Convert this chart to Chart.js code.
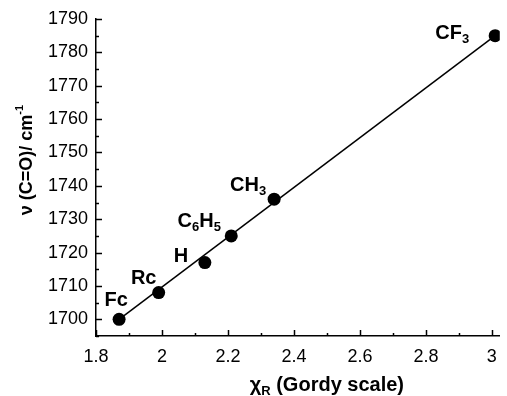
<!DOCTYPE html>
<html>
<head>
<meta charset="utf-8">
<script src="https://cdn.jsdelivr.net/npm/chart.js@4/dist/chart.umd.min.js"></script>
<style>
  html, body { margin: 0; padding: 0; background: #fff; }
  #wrap { width: 507px; height: 396px; }
</style>
</head>
<body>
<div id="wrap"><canvas id="grafico"></canvas></div>
<script>
// valores (eletronegatividade x frequência C=O)
const substituintes = [
  [["Fc", 0]],
  [["Rc", 0]],
  [["H", 0]],
  [["C", 0], ["6", 1], ["H", 0], ["5", 1]],
  [["CH", 0], ["3", 1]],
  [["CF", 0], ["3", 1]]
];
const chiR = [1.87, 1.99, 2.13, 2.21, 2.34, 3.01];
const nuCO = [1700, 1708, 1717, 1725, 1736, 1785];

// reta ajustada (extremos)
const retaX = [1.87, 3.01];
const retaY = [1700, 1785];

const ticksX = [1.8, 2.0, 2.2, 2.4, 2.6, 2.8, 3.0];
const ticksY = [1700, 1710, 1720, 1730, 1740, 1750, 1760, 1770, 1780, 1790];

// deslocamento do centro de cada rótulo em relação ao ponto
const offsetRotulo = [[-3, -19], [-15, -14], [-24, -6], [-32, -14], [-26, -14], [-43, -2]];

const fonte = "'Liberation Sans', Arial, sans-serif";

// desenha texto com subscritos
function textoComSub(ctx, partes, x, y, tam) {
  let cx = x;
  partes.forEach(([t, sub]) => {
    ctx.font = "bold " + (sub ? Math.round(tam * 0.65) : tam) + "px " + fonte;
    ctx.fillText(t, cx, sub ? y + tam * 0.3 : y);
    cx += ctx.measureText(t).width;
  });
}

function larguraSub(ctx, partes, tam) {
  let w = 0;
  partes.forEach(([t, sub]) => {
    ctx.font = "bold " + (sub ? Math.round(tam * 0.65) : tam) + "px " + fonte;
    w += ctx.measureText(t).width;
  });
  return w;
}

const eixosPlugin = {
  id: "eixos",
  afterDraw(chart) {
    const ctx = chart.ctx;
    const sx = chart.scales.x, sy = chart.scales.y;
    const area = chart.chartArea;
    ctx.save();
    ctx.strokeStyle = "#000";
    ctx.lineWidth = 1.5;
    // marcas do eixo x (para dentro)
    for (let v = 1.8; v <= 3.05; v += 0.1) {
      const px = Math.round(sx.getPixelForValue(v)) + 0.5;
      const maior = Math.abs(Math.round(v * 10) % 2) === 0;
      ctx.beginPath();
      ctx.moveTo(px, area.bottom);
      ctx.lineTo(px, area.bottom - (maior ? 6 : 3));
      ctx.stroke();
    }
    // marcas do eixo y
    for (let v = 1695; v <= 1790; v += 5) {
      const py = Math.round(sy.getPixelForValue(v)) + 0.5;
      const maior = v % 10 === 0;
      ctx.beginPath();
      ctx.moveTo(area.left, py);
      ctx.lineTo(area.left + (maior ? 6 : 3), py);
      ctx.stroke();
    }

    // rótulos dos pontos
    ctx.fillStyle = "#000";
    ctx.textBaseline = "middle";
    ctx.textAlign = "left";
    substituintes.forEach((partes, i) => {
      const px = sx.getPixelForValue(chiR[i]);
      const py = sy.getPixelForValue(nuCO[i]);
      const w = larguraSub(ctx, partes, 20);
      textoComSub(ctx, partes, px + offsetRotulo[i][0] - w / 2, py + offsetRotulo[i][1], 20);
    });

    // título do eixo x
    const tx = (area.left + area.right) / 2 + 29;
    const tituloX = [["χ", 0], ["R", 1], [" (Gordy scale)", 0]];
    const wx = larguraSub(ctx, tituloX, 20);
    textoComSub(ctx, tituloX, tx - wx / 2, 385, 20);

    // título do eixo y (rotacionado)
    ctx.translate(27, 160);
    ctx.rotate(-Math.PI / 2);
    const partesY = [["ν (C=O)/ cm", 0]];
    const wy = larguraSub(ctx, partesY, 18);
    ctx.font = "bold 11px " + fonte;
    const wsup = ctx.measureText("-1").width;
    const x0 = -(wy + wsup) / 2;
    textoComSub(ctx, partesY, x0, 0, 18);
    ctx.font = "bold 11px " + fonte;
    ctx.fillText("-1", x0 + wy, -7);
    ctx.restore();
  }
};

new Chart(document.getElementById("grafico"), {
  type: "scatter",
  data: {
    datasets: [
      {
        data: chiR.map((x, i) => ({ x: x, y: nuCO[i] })),
        pointRadius: 6.5,
        pointBackgroundColor: "#000",
        pointBorderWidth: 0,
        showLine: false
      },
      {
        data: retaX.map((x, i) => ({ x: x, y: retaY[i] })),
        showLine: true,
        borderColor: "#000",
        borderWidth: 1.5,
        pointRadius: 0
      }
    ]
  },
  plugins: [eixosPlugin],
  options: {
    responsive: true,
    maintainAspectRatio: false,
    animation: false,
    layout: { padding: { top: 19, right: 0, bottom: 0, left: 0 } },
    plugins: { legend: { display: false }, tooltip: { enabled: false } },
    scales: {
      x: {
        type: "linear",
        min: 1.8,
        max: 3.024,
        afterBuildTicks: s => { s.ticks = ticksX.map(v => ({ value: v })); },
        afterFit: s => { s.height = 60; },
        grid: { display: false, drawTicks: false },
        border: { display: true, color: "#000", width: 1.5 },
        ticks: {
          color: "#000",
          padding: 10,
          maxRotation: 0,
          font: { family: fonte, size: 18 },
          callback: v => String(Math.round(v * 10) / 10)
        }
      },
      y: {
        min: 1695,
        max: 1790,
        afterBuildTicks: s => { s.ticks = ticksY.map(v => ({ value: v })); },
        afterFit: s => { s.width = 96; },
        grid: { display: false, drawTicks: false },
        border: { display: true, color: "#000", width: 1.5 },
        ticks: {
          color: "#000",
          padding: 8,
          font: { family: fonte, size: 18 },
          callback: v => String(v)
        }
      }
    }
  }
});
</script>
</body>
</html>
